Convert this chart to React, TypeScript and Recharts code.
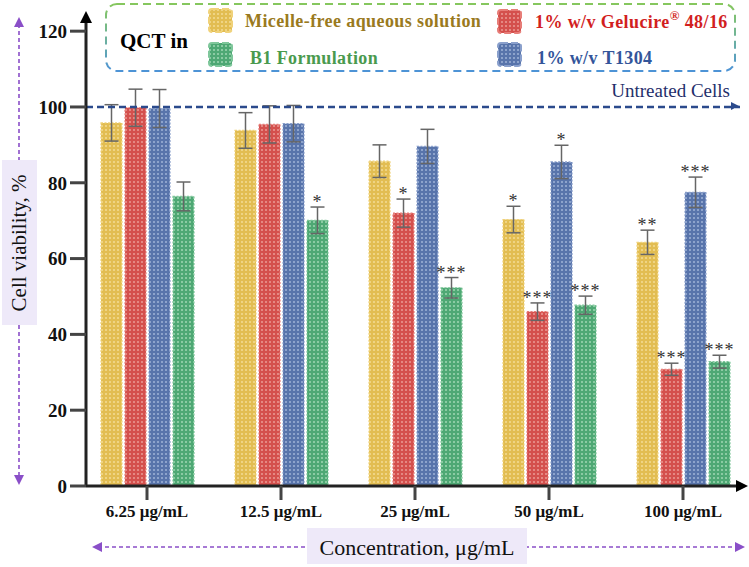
import React from 'react';
import { BarChart, Bar, XAxis, YAxis, ErrorBar, ReferenceLine, LabelList } from 'recharts';

// Concentrations tested
const concentrations = ['6.25 μg/mL', '12.5 μg/mL', '25 μg/mL', '50 μg/mL', '100 μg/mL'];

// Cell viability (%) per vehicle, with SD and significance marks
const micelleFree = [95.8, 93.8, 85.7, 70.3, 64.3];
const micelleFreeErr = [4.8, 4.7, 4.3, 3.5, 3.2];
const micelleFreeSig = ['', '', '', '*', '**'];

const gelucire = [99.8, 95.4, 72.0, 46.0, 30.8];
const gelucireErr = [4.9, 4.9, 3.7, 2.3, 1.6];
const gelucireSig = ['', '', '*', '***', '***'];

const t1304 = [99.6, 95.6, 89.6, 85.5, 77.5];
const t1304Err = [5.0, 4.8, 4.5, 4.4, 4.0];
const t1304Sig = ['', '', '', '*', '***'];

const b1 = [76.4, 70.1, 52.3, 47.7, 32.8];
const b1Err = [3.8, 3.5, 2.7, 2.4, 1.7];
const b1Sig = ['', '*', '***', '***', '***'];

const yTicks = [0, 20, 40, 60, 80, 100, 120];
const untreatedLevel = 100;

const data = concentrations.map((c, i) => ({
  conc: c,
  mf: micelleFree[i], mfErr: micelleFreeErr[i], mfSig: micelleFreeSig[i],
  gel: gelucire[i], gelErr: gelucireErr[i], gelSig: gelucireSig[i],
  t13: t1304[i], t13Err: t1304Err[i], t13Sig: t1304Sig[i],
  b1: b1[i], b1Err: b1Err[i], b1Sig: b1Sig[i],
}));

const SERIF = "'Times New Roman', 'Liberation Serif', Tinos, serif";

const palette = {
  mf: { base: '#e2bd52', dot: '#f3dc94', edge: '#f0d27a' },
  gel: { base: '#d4504d', dot: '#eb9a95', edge: '#e77d78' },
  t13: { base: '#5874ab', dot: '#9fb2d6', edge: '#8aa0cc' },
  b1: { base: '#4ea874', dot: '#9fd6b3', edge: '#7fc79b' },
};

const PatternDefs = ({ prefix }: { prefix: string }) => (
  <defs>
    {Object.entries(palette).map(([k, c]) => (
      <pattern key={k} id={`${prefix}-${k}`} patternUnits="userSpaceOnUse" width="4" height="4">
        <rect width="4" height="4" fill={c.base} />
        <rect x="1" y="1" width="2" height="2" fill={c.dot} opacity="0.75" />
      </pattern>
    ))}
    <linearGradient id={`${prefix}-legendStroke`} x1="0" y1="0" x2="0" y2="1">
      <stop offset="0" stopColor="#86c75e" />
      <stop offset="0.5" stopColor="#6fb39a" />
      <stop offset="1" stopColor="#4d93d6" />
    </linearGradient>
  </defs>
);

// Significance stars placed just above each error bar
const makeSigLabel = (values: number[], errs: number[]) => (props: any) => {
  const { x, y, width, height, value, index } = props;
  if (!value) return null;
  const perUnit = height / values[index];
  const top = y - errs[index] * perUnit;
  return (
    <text
      x={x + width / 2}
      y={top + 1}
      textAnchor="middle"
      fontSize={18}
      style={{ fontFamily: SERIF }}
      fill="#333"
      letterSpacing={1}
    >
      {value}
    </text>
  );
};

const UntreatedLabel = (props: any) => {
  const vb = props.viewBox || {};
  return (
    <text
      x={vb.x + vb.width - 10}
      y={vb.y - 10}
      textAnchor="end"
      fontSize={19}
      style={{ fontFamily: SERIF }}
      fill="#1f2f6b"
    >
      Untreated Cells
    </text>
  );
};

const series = [
  { key: 'mf', err: 'mfErr', sig: 'mfSig', values: micelleFree, errs: micelleFreeErr },
  { key: 'gel', err: 'gelErr', sig: 'gelSig', values: gelucire, errs: gelucireErr },
  { key: 't13', err: 't13Err', sig: 't13Sig', values: t1304, errs: t1304Err },
  { key: 'b1', err: 'b1Err', sig: 'b1Sig', values: b1, errs: b1Err },
];

const legendItems = [
  { key: 'mf', text: 'Micelle-free aqueous solution', color: '#9a7a1e', ix: 209, iy: 9, tx: 245, ty: 21 },
  { key: 'b1', text: 'B1 Formulation', color: '#4a9a4e', ix: 209, iy: 43, tx: 250, ty: 58 },
  { key: 'gel', text: null, color: '#d21f1f', ix: 498, iy: 10, tx: 535, ty: 22 },
  { key: 't13', text: '1% w/v T1304', color: '#33559a', ix: 498, iy: 43, tx: 537, ty: 58 },
];

export default function App() {
  return (
    <div style={{ position: 'absolute', left: 0, top: 0, width: 749, height: 567, background: '#fff' }}>
      <BarChart
        width={749}
        height={567}
        data={data}
        margin={{ top: 16, right: 9, bottom: 51, left: 0 }}
        barSize={21}
        barGap={3}
      >
        <PatternDefs prefix="bar" />
        <XAxis
          dataKey="conc"
          height={30}
          padding={{ left: -6, right: -10 }}
          axisLine={{ stroke: '#222', strokeWidth: 3 }}
          tickLine={{ stroke: '#444', strokeWidth: 3 }}
          tickSize={14}
          tickMargin={5}
          tick={{ fontSize: 17, fontWeight: 'bold', fill: '#111', style: { fontFamily: SERIF } }}
        />
        <YAxis
          width={86}
          domain={[0, 124]}
          ticks={yTicks}
          axisLine={{ stroke: '#222', strokeWidth: 3 }}
          tickLine={{ stroke: '#444', strokeWidth: 3 }}
          tickSize={16}
          tickMargin={3}
          tick={{ fontSize: 19, fontWeight: 'bold', fill: '#111', style: { fontFamily: SERIF } }}
        />
        {series.map((s) => {
          const c = (palette as any)[s.key];
          return (
            <Bar
              key={s.key}
              dataKey={s.key}
              fill={`url(#bar-${s.key})`}
              stroke={c.edge}
              strokeWidth={1.2}
              strokeDasharray="2 1.5"
              isAnimationActive={false}
            >
              <ErrorBar dataKey={s.err} width={7} stroke="#666" strokeWidth={1.5} direction="y" />
              <LabelList dataKey={s.sig} content={makeSigLabel(s.values, s.errs)} />
            </Bar>
          );
        })}
        <ReferenceLine
          y={untreatedLevel}
          stroke="#2b4a8c"
          strokeWidth={2.5}
          strokeDasharray="7 4"
          label={<UntreatedLabel />}
        />
      </BarChart>

      {/* Decorations: axis arrows, axis titles and the legend box */}
      <svg
        width={749}
        height={567}
        style={{ position: 'absolute', left: 0, top: 0, pointerEvents: 'none', fontFamily: SERIF }}
      >
        <PatternDefs prefix="lg" />
        {/* axis arrowheads */}
        <polygon points="80,23 86,11 92,23" fill="#000" />
        <polygon points="736,480 748,486 736,492" fill="#000" />
        <polygon points="731,102 739,106 731,110" fill="#2b4a8c" />

        {/* y title */}
        <line x1={19} y1={24} x2={19} y2={478} stroke="#8a4fc8" strokeWidth={1.6} strokeDasharray="4 3" />
        <polygon points="14,27 19,17 24,27" fill="#8a4fc8" />
        <polygon points="14,475 19,485 24,475" fill="#8a4fc8" />
        <rect x={2} y={160} width={35} height={165} fill="#eee9f9" />
        <text
          x={19}
          y={243}
          transform="rotate(-90 19 243)"
          textAnchor="middle"
          dominantBaseline="central"
          fontSize={21}
          fill="#111"
        >
          Cell viability, %
        </text>

        {/* x title */}
        <line x1={98} y1={547} x2={738} y2={547} stroke="#8a4fc8" strokeWidth={1.6} strokeDasharray="4 3" />
        <polygon points="102,542 92,547 102,552" fill="#8a4fc8" />
        <polygon points="735,542 745,547 735,552" fill="#8a4fc8" />
        <rect x={307} y={528} width={220} height={36} fill="#eee9f9" />
        <text
          x={417}
          y={547}
          textAnchor="middle"
          dominantBaseline="central"
          fontSize={22}
          fill="#111"
        >
          Concentration, μg/mL
        </text>

        {/* legend */}
        <rect
          x={106}
          y={4}
          width={629}
          height={67}
          rx={11}
          fill="none"
          stroke="url(#lg-legendStroke)"
          strokeWidth={2}
          strokeDasharray="8 5"
        />
        <text x={120} y={41} dominantBaseline="central" fontSize={21} fontWeight="bold" fill="#000">
          QCT in
        </text>
        {legendItems.map((it) => {
          const c = (palette as any)[it.key];
          return (
            <g key={it.key}>
              <rect x={it.ix} y={it.iy} width={23} height={23} rx={3} fill={`url(#lg-${it.key})`} />
              <rect x={it.ix} y={it.iy} width={23} height={23} rx={3} fill="none" stroke={c.edge} strokeWidth={2} strokeDasharray="7 3" />
              <text
                x={it.tx}
                y={it.ty}
                dominantBaseline="central"
                fontSize={18}
                fontWeight="bold"
                fill={it.color}
                letterSpacing={0.4}
              >
                {it.text !== null ? (
                  it.text
                ) : (
                  <>
                    1% w/v Gelucire
                    <tspan fontSize={13} dy={-7}>®</tspan>
                    <tspan dy={7}>{'\u00a048/16'}</tspan>
                  </>
                )}
              </text>
            </g>
          );
        })}
      </svg>
    </div>
  );
}
